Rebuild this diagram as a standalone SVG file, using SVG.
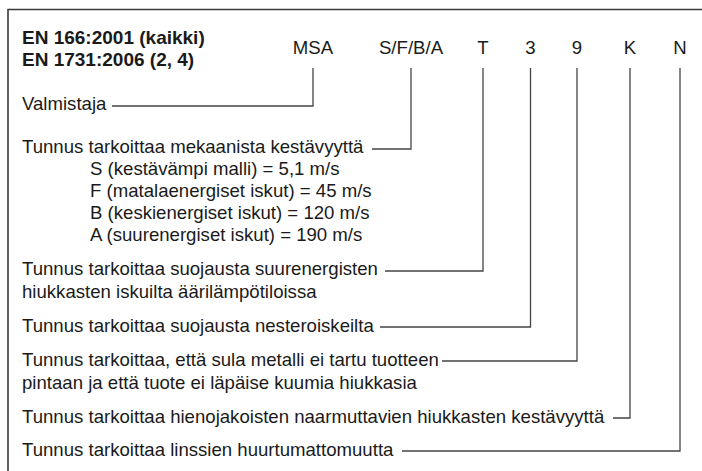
<svg xmlns="http://www.w3.org/2000/svg" width="702" height="471" viewBox="0 0 702 471">
<style>
text{font-family:"Liberation Sans",Arial,sans-serif;font-size:18.6px;fill:#1a1a1a}
.b{font-weight:bold;font-size:19px}
.h{text-anchor:middle}
.c{fill:none;stroke:#444;stroke-width:1.3}
.frame{fill:none;stroke:#3a3a3a;stroke-width:1.6}
</style>
<rect width="702" height="471" fill="#fff"/>
<path class="frame" d="M8,480 V9.5 H710"/>
<g id="title">
<text class="b" x="22" y="44">EN 166:2001 (kaikki)</text>
<text class="b" x="22" y="66">EN 1731:2006 (2, 4)</text>
</g>
<g id="codes">
<text class="h" x="313" y="54">MSA</text>
<text class="h" x="411" y="54">S/F/B/A</text>
<text class="h" x="483" y="54">T</text>
<text class="h" x="530.5" y="54">3</text>
<text class="h" x="577" y="54">9</text>
<text class="h" x="630" y="54">K</text>
<text class="h" x="680" y="54">N</text>
</g>
<g id="n-valmistaja"><text x="22" y="110">Valmistaja</text></g>
<g id="n-mekaaninen">
<text x="22" y="153">Tunnus tarkoittaa mekaanista kestävyyttä</text>
<text x="90" y="175">S (kestävämpi malli) = 5,1 m/s</text>
<text x="90" y="197">F (matalaenergiset iskut) = 45 m/s</text>
<text x="90" y="219">B (keskienergiset iskut) = 120 m/s</text>
<text x="90" y="241">A (suurenergiset iskut) = 190 m/s</text>
</g>
<g id="n-t">
<text x="22" y="275">Tunnus tarkoittaa suojausta suurenergisten</text>
<text x="22" y="298">hiukkasten iskuilta äärilämpötiloissa</text>
</g>
<g id="n-3"><text x="22" y="332">Tunnus tarkoittaa suojausta nesteroiskeilta</text></g>
<g id="n-9">
<text x="22" y="366">Tunnus tarkoittaa, että sula metalli ei tartu tuotteen</text>
<text x="22" y="389">pintaan ja että tuote ei läpäise kuumia hiukkasia</text>
</g>
<g id="n-k"><text x="22" y="423">Tunnus tarkoittaa hienojakoisten naarmuttavien hiukkasten kestävyyttä</text></g>
<g id="n-n"><text x="22" y="456">Tunnus tarkoittaa linssien huurtumattomuutta</text></g>
<g id="connectors">
<path class="c" d="M313,68 V106 H112"/>
<path class="c" d="M411,68 V149 H372"/>
<path class="c" d="M483,68 V271 H385"/>
<path class="c" d="M530.5,68 V327 H380"/>
<path class="c" d="M577,68 V361 H442"/>
<path class="c" d="M630,68 V418 H613"/>
<path class="c" d="M680,68 V451 H402"/>
</g>
</svg>
